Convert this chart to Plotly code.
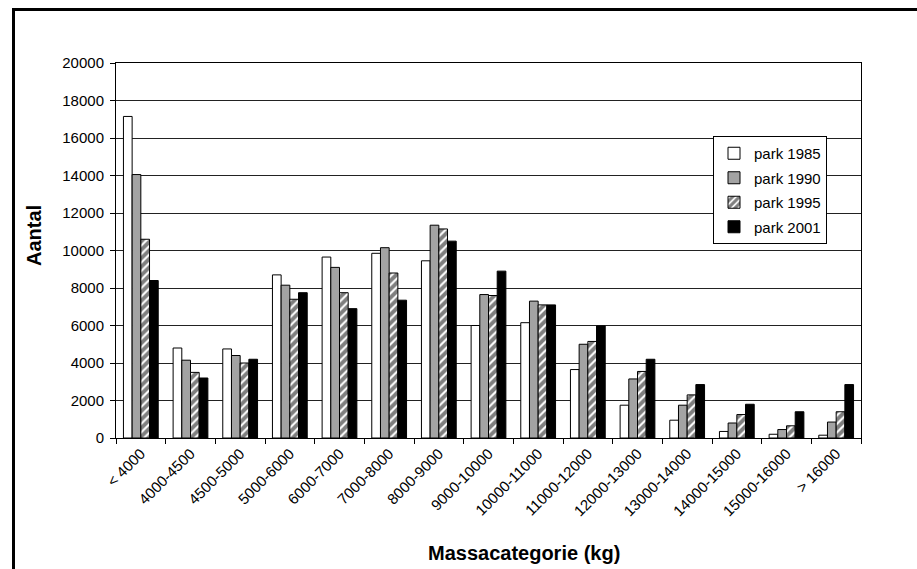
import plotly.graph_objects as go

categories = ["< 4000", "4000-4500", "4500-5000", "5000-6000", "6000-7000", "7000-8000",
              "8000-9000", "9000-10000", "10000-11000", "11000-12000", "12000-13000",
              "13000-14000", "14000-15000", "15000-16000", "> 16000"]

park_1985 = [17150, 4800, 4750, 8700, 9650, 9850, 9450, 6000, 6150, 3650, 1750, 950, 350, 200, 150]
park_1990 = [14050, 4150, 4400, 8150, 9100, 10150, 11350, 7650, 7300, 5000, 3150, 1750, 800, 450, 850]
park_1995 = [10600, 3500, 4000, 7400, 7750, 8800, 11150, 7600, 7100, 5150, 3550, 2300, 1250, 650, 1400]
park_2001 = [8400, 3200, 4200, 7750, 6900, 7350, 10500, 8900, 7100, 5980, 4200, 2850, 1800, 1400, 2850]

y_ticks = list(range(0, 20001, 2000))
y_tick_labels = [str(v) for v in y_ticks]

FONT = "Liberation Sans, Arial, sans-serif"

fig = go.Figure()
fig.add_trace(go.Bar(name="park 1985", x=categories, y=park_1985, legendgroup="a",
                     marker=dict(color="white", line=dict(color="black", width=1))))
fig.add_trace(go.Bar(name="park 1990", x=categories, y=park_1990, legendgroup="b",
                     marker=dict(color="#a3a3a3", line=dict(color="black", width=1))))
fig.add_trace(go.Bar(name="park 1995", x=categories, y=park_1995, legendgroup="c",
                     marker=dict(color="white", line=dict(color="black", width=1),
                                 pattern=dict(shape="/", fgcolor="black", bgcolor="white",
                                              size=6, solidity=0.65))))
fig.add_trace(go.Bar(name="park 2001", x=categories, y=park_2001, legendgroup="d",
                     marker=dict(color="black", line=dict(color="black", width=1))))

W, H = 917, 569
L, R, T, B = 116, 861, 63, 438
pw, ph = R - L, B - T

def px_x(p):
    return (p - L) / pw

def px_y(p):
    return (B - p) / ph

fig.update_layout(
    width=W, height=H,
    margin=dict(l=L, r=W - R, t=T, b=H - B),
    paper_bgcolor="white", plot_bgcolor="white",
    font=dict(family=FONT, size=15, color="black"),
    barmode="group", bargap=0.3, bargroupgap=0,
    showlegend=True,
    legend=dict(x=px_x(713), y=px_y(136), xanchor="left", yanchor="top",
                bordercolor="black", borderwidth=1, bgcolor="white",
                font=dict(family=FONT, size=15, color="black"),
                itemwidth=30, tracegroupgap=2),
    xaxis=dict(type="category", tickangle=-45, ticks="outside", ticklen=5,
               tickson="boundaries", tickcolor="black",
               showline=True, linecolor="black", linewidth=1, mirror=True,
               showgrid=False, tickfont=dict(size=15)),
    yaxis=dict(range=[0, 20000], tickvals=y_ticks, ticktext=y_tick_labels,
               ticks="outside", ticklen=5, ticklabelstandoff=3,
               tickcolor="black", showline=True, linecolor="black", linewidth=1,
               mirror=True, showgrid=True, gridcolor="#222222", gridwidth=1,
               zeroline=False, tickfont=dict(size=15)),
    annotations=[
        dict(text="<b>Aantal</b>", x=px_x(34), y=px_y(236), xref="paper", yref="paper",
             textangle=-90, showarrow=False, font=dict(size=20, family=FONT),
             xanchor="center", yanchor="middle"),
        dict(text="<b>Massacategorie (kg)</b>", x=px_x(524), y=px_y(553),
             xref="paper", yref="paper", showarrow=False,
             font=dict(size=20, family=FONT), xanchor="center", yanchor="middle"),
    ],
    shapes=[
        dict(type="line", xref="paper", yref="paper", x0=px_x(13.5), x1=px_x(930),
             y0=px_y(9.5), y1=px_y(9.5), line=dict(color="black", width=3)),
        dict(type="line", xref="paper", yref="paper", x0=px_x(13.5), x1=px_x(13.5),
             y0=px_y(8), y1=px_y(580), line=dict(color="black", width=3)),
    ],
)

fig.write_html("out.html")
